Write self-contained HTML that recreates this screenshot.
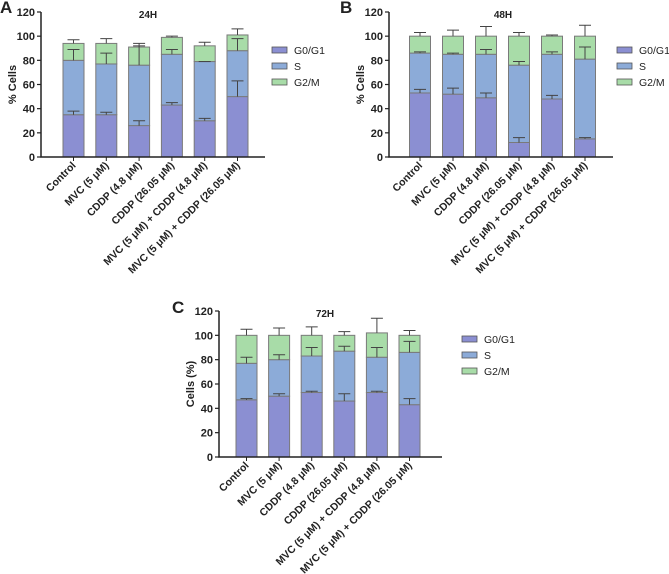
<!DOCTYPE html>
<html><head><meta charset="utf-8"><style>
body{margin:0;background:#fff;}
svg{display:block;font-family:"Liberation Sans",Arial,sans-serif;}
</style></head><body>
<svg id="fig" width="669" height="574" viewBox="0 0 669 574"></svg>
<script>
const categories = ["Control","MVC (5 \u03bcM)","CDDP (4.8 \u03bcM)","CDDP (26.05 \u03bcM)","MVC (5 \u03bcM) + CDDP (4.8 \u03bcM)","MVC (5 \u03bcM) + CDDP (26.05 \u03bcM)"];
const yTicks = [0,20,40,60,80,100,120];
const legendLabels = ["G0/G1","S","G2/M"];
// 24H
const a_g0 = [35,35,26,43,30,50];
const a_g0Err = [38,37,30,45,32,63];
const a_s = [80,77,76,85,79,88];
const a_sErr = [89,86,92,89,79,98];
const a_tot = [94,94,91,99,92,101];
const a_totErr = [97,98,94,100,95,106];
// 48H
const b_g0 = [53,52,49,12,48,15];
const b_g0Err = [56,57,53,16,51,16];
const b_s = [86,85,85,76,85,81];
const b_sErr = [87,86,89,79,87,91];
const b_tot = [100,100,100,100,100,100];
const b_totErr = [103,105,108,103,101,109];
// 72H
const c_g0 = [47,50,53,46,53,43];
const c_g0Err = [48,52,54,52,54,48];
const c_s = [77,80,83,87,82,86];
const c_sErr = [82,84,90,91,90,95];
const c_tot = [100,100,100,100,102,100];
const c_totErr = [105,106,107,103,114,104];

const NS="http://www.w3.org/2000/svg";
const svg=document.getElementById('fig');
const colors=["#8b8fd2","#8cabd8","#a8dca8"];
function mk(tag,attrs,parent,text){const e=document.createElementNS(NS,tag);for(const k in attrs)e.setAttribute(k,attrs[k]);if(text!==undefined)e.textContent=text;(parent||svg).appendChild(e);return e;}

function panel(cfg){
  const g=mk('g',{});
  
  
  const y=v=>cfg.y0-(v/120)*(cfg.y0-cfg.y120);
  const x=i=>cfg.x1+i*cfg.step;
  const bw=21;
  const L=mk('text',{x:cfg.lx,y:cfg.ly,'font-size':17,'font-weight':'bold',fill:'#222'},g,cfg.letter);
  
  const T=mk('text',{x:cfg.tx,y:cfg.y120+6,'font-size':10,'font-weight':'bold','text-anchor':'middle',fill:'#222'},g,cfg.title);
  
  const yt=mk('text',{transform:`translate(${cfg.ax-25},${y(60)}) rotate(-90)`,'font-size':11,'font-weight':'bold','text-anchor':'middle',fill:'#222'},g,cfg.ylabel);
  
  const segs=[[0,cfg.g0,cfg.g0Err],[1,cfg.s,cfg.sErr],[2,cfg.tot,cfg.totErr]];
  for(let i=0;i<categories.length;i++){
    const cx=x(i);
    let prev=0;
    for(const [k,arr,err] of segs){
      const top=arr[i];
      const r=mk('rect',{x:cx-bw/2,y:y(top),width:bw,height:y(prev)-y(top),fill:colors[k],stroke:'#7a7a7a','stroke-width':1},g);
      
      
      prev=top;
    }
    for(const [k,arr,err] of segs){
      const e=mk('path',{d:`M${cx} ${y(arr[i])}V${y(err[i])}M${cx-6} ${y(err[i])}H${cx+6}`,stroke:'#444','stroke-width':1,fill:'none'},g);
      
    }
    const lab=mk('text',{transform:`translate(${cx+3},${cfg.y0+9}) rotate(-45)`,'font-size':10.5,'font-weight':'bold','text-anchor':'end',fill:'#222'},g,categories[i]);
    
    mk('line',{x1:cx,x2:cx,y1:cfg.y0,y2:cfg.y0+4,stroke:'#222'},g);
  }
  const ax=mk('path',{d:`M${cfg.ax} ${cfg.y120}V${cfg.y0}H${cfg.axEnd}`,stroke:'#222','stroke-width':1.5,fill:'none'},g);
  
  for(const t of yTicks){
    mk('line',{x1:cfg.ax-4,x2:cfg.ax,y1:y(t),y2:y(t),stroke:'#222','stroke-width':1.2},g);
    const tl=mk('text',{x:cfg.ax-6,y:y(t)+4,'font-size':11,'font-weight':'bold','text-anchor':'end',fill:'#222'},g,String(t));
    
  }
  for(let k=0;k<3;k++){
    const ly=cfg.legY+k*16;
    const r=mk('rect',{x:cfg.legX,y:ly-3,width:15,height:6,fill:colors[k],stroke:'#555','stroke-width':0.8},g);
    
    const t=mk('text',{x:cfg.legX+22,y:ly+4,'font-size':10.5,fill:'#222'},g,legendLabels[k]);
    
  }
}
panel({name:'panel-a-24h',letter:'A',lx:0,ly:13,title:'24H',tx:148,ylabel:'% Cells',ax:41,axEnd:265,y0:157,y120:12,x1:73.5,step:32.8,
  g0:a_g0,g0Err:a_g0Err,s:a_s,sErr:a_sErr,tot:a_tot,totErr:a_totErr,legX:272,legY:50});
panel({name:'panel-b-48h',letter:'B',lx:340,ly:13,title:'48H',tx:503,ylabel:'% Cells',ax:389,axEnd:613,y0:157,y120:12,x1:420,step:33,
  g0:b_g0,g0Err:b_g0Err,s:b_s,sErr:b_sErr,tot:b_tot,totErr:b_totErr,legX:617,legY:50});
panel({name:'panel-c-72h',letter:'C',lx:172,ly:313,title:'72H',tx:325,ylabel:'Cells (%)',ax:219,axEnd:442,y0:457,y120:311,x1:246.5,step:32.6,
  g0:c_g0,g0Err:c_g0Err,s:c_s,sErr:c_sErr,tot:c_tot,totErr:c_totErr,legX:462,legY:339});
</script>
</body></html>
